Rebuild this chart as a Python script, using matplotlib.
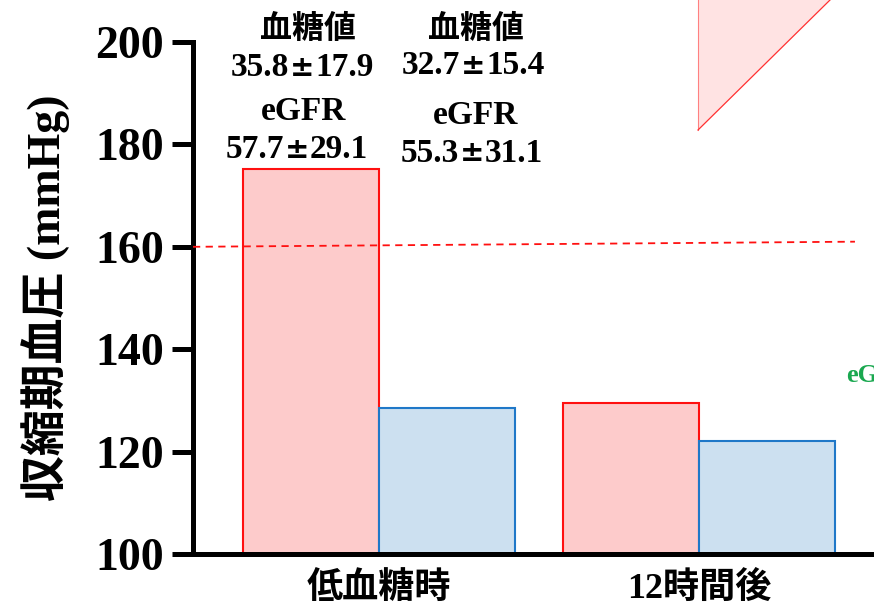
import matplotlib
matplotlib.use("Agg")
import matplotlib.pyplot as plt
from matplotlib.patches import Polygon
import numpy as np

# Data
groups = ["低血糖時", "12時間後"]
sbp_red = [175.2, 129.5]
sbp_blue = [128.5, 122.1]
glucose_mean = ["35.8", "32.7"]
glucose_sd = ["17.9", "15.4"]
egfr_mean = ["57.7", "55.3"]
egfr_sd = ["29.1", "31.1"]
threshold_y = [160, 161]
yticks = [100, 120, 140, 160, 180, 200]

FAM = ["Liberation Serif", "Noto Sans CJK JP"]
SYM = ["DejaVu Sans"]
plt.rcParams["font.family"] = FAM
plt.rcParams["font.weight"] = "bold"

W, H = 874, 606
fig = plt.figure(figsize=(W / 100, H / 100), dpi=100)
ax = fig.add_axes([193 / W, (H - 554) / H, (W - 193) / W, (554 - 42) / H])

x = np.arange(len(groups))
bw = 0.425
ax.bar(x - bw / 2, [v - 100 for v in sbp_red], bw, bottom=100,
       color="#fdcbcb", edgecolor="#ff1010", linewidth=1.5, zorder=2)
ax.bar(x + bw / 2, [v - 100 for v in sbp_blue], bw, bottom=100,
       color="#cce0f0", edgecolor="#1f78c8", linewidth=1.5, zorder=2)

ax.set_xlim(-0.58, 1.547)
ax.set_ylim(100, 200)

# reference threshold line
ax.plot([-0.58, 1.4875], threshold_y, color="#ff1010", lw=1.3,
        dashes=(4, 3), zorder=3, clip_on=False)

ax.spines["top"].set_visible(False)
ax.spines["right"].set_visible(False)
for s in ("left", "bottom"):
    ax.spines[s].set_linewidth(3.6)
ax.set_yticks(yticks)
ax.set_yticklabels([str(t) for t in yticks], fontsize=33, fontweight="bold",
                   family=FAM)
ax.tick_params(axis="y", length=15, width=3.6, pad=6)
ax.tick_params(axis="x", length=0, pad=13)
ax.set_xticks(x)
ax.set_xticklabels(groups, fontsize=26, fontweight="bold", family=FAM)

ax.set_ylabel("収縮期血圧 (mmHg)", fontsize=33, fontweight="bold", family=FAM,
              labelpad=18)


def pm_text(cx_px, y_px, left, right):
    """Write 'left ± right' with a wide ± centred at cx_px."""
    yf = 1 - y_px / H
    fig.text(cx_px / W, yf, "±", ha="center", va="center", fontsize=21,
             fontweight="bold", family=SYM)
    fig.text((cx_px - 13) / W, yf, left, ha="right", va="center",
             fontsize=24, fontweight="bold", family=FAM)
    fig.text((cx_px + 13) / W, yf, right, ha="left", va="center",
             fontsize=24, fontweight="bold", family=FAM)


# annotations above the bars
head_x = [308, 476]
pm_x_glu = [302, 473]
pm_x_egfr = [297, 472]
for i in range(2):
    fig.text(head_x[i] / W, 1 - 30 / H, "血糖値", ha="center", va="center",
             fontsize=23, fontweight="bold", family=FAM)
    pm_text(pm_x_glu[i], 68 - 2 * i, glucose_mean[i], glucose_sd[i])
    fig.text((head_x[i] + (-4 if i == 0 else 0)) / W, 1 - (112 + 4 * i) / H,
             "eGFR", ha="center", va="center", fontsize=24,
             fontweight="bold", family=FAM)
    pm_text(pm_x_egfr[i], 150 + 3 * i, egfr_mean[i], egfr_sd[i])

# decorative triangle in the upper right
tri = Polygon([(698 / W, 1 - 130 / H), (698 / W, 1 + 30 / H),
               (860 / W, 1 + 30 / H)],
              closed=True, transform=fig.transFigure, facecolor="#ffe0e0",
              edgecolor="none", alpha=0.9, zorder=1)
fig.add_artist(tri)
fig.add_artist(plt.Line2D([698 / W, 698 / W], [1 - 130 / H, 1.0],
                          transform=fig.transFigure, color="#ff8080", lw=0.8))
fig.add_artist(plt.Line2D([698 / W, 830 / W], [1 - 130 / H, 1.0],
                          transform=fig.transFigure, color="#ff3030", lw=0.9))

fig.text(846 / W, 1 - 375 / H, "eGFR", ha="left", va="center", fontsize=19,
         fontweight="bold", color="#1aa850", family=FAM)

fig.savefig("out.png", dpi=100)
